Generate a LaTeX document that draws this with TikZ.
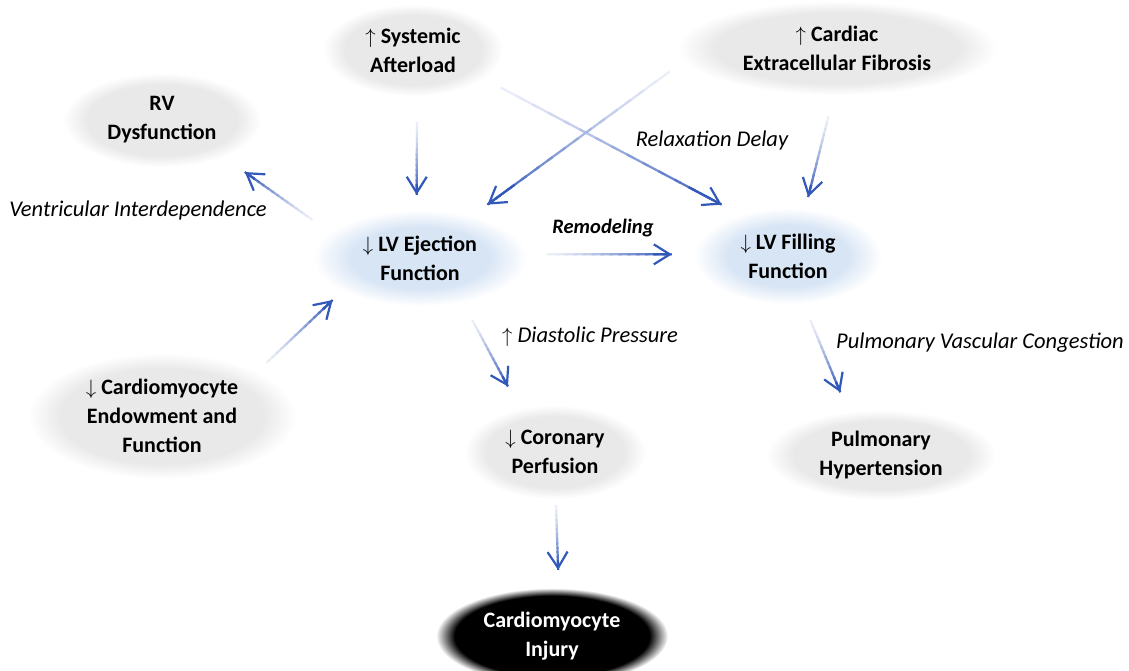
\documentclass[tikz,border=0pt]{standalone}
\usepackage{fontspec}
\setmainfont{Carlito}
\usetikzlibrary{shapes.geometric, arrows.meta, calc}
\definecolor{ngray}{RGB}{233,233,233}
\definecolor{nblue}{RGB}{216,229,245}
\definecolor{arrowblue}{RGB}{50,88,185}
\pgfdeclareradialshading{softgray}{\pgfpoint{0bp}{0bp}}{color(0bp)=(ngray); color(19bp)=(ngray); color(25bp)=(white); color(50bp)=(white)}
\pgfdeclareradialshading{softblue}{\pgfpoint{0bp}{0bp}}{color(0bp)=(nblue); color(16bp)=(nblue); color(25bp)=(white); color(50bp)=(white)}
\pgfdeclareradialshading{softblack}{\pgfpoint{0bp}{0bp}}{color(0bp)=(black); color(21bp)=(black); color(25bp)=(white); color(50bp)=(white)}
\newcommand\nodefont{\fontsize{22}{29}\selectfont\bfseries}
\newcommand\lblfont{\fontsize{22.5}{26}\selectfont\itshape}
\newcommand\remfont{\fontsize{20.5}{26}\selectfont\itshape\bfseries}
\tikzset{
  bub/.style={ellipse, shade, shading=softgray, inner sep=0pt, align=center, font=\nodefont},
  bubblue/.style={bub, shading=softblue},
  bubblack/.style={bub, shading=softblack, text=white},
  lbl/.style={inner sep=0pt, font=\lblfont},
  arrowline/.style={line width=2.2pt, line cap=butt},
  headtip/.style={-{Straight Barb[length=16pt, width=20pt, line join=miter]}}
}
% gradient connector: #1 from, #2 to, #3 gap at start, #4 gap at end
\newcommand\garrow[4]{%
  \coordinate (gA) at ($(#1)!#3!(#2)$);
  \coordinate (gB) at ($(#2)!#4!(#1)$);
  \foreach \k in {0,...,13}{%
    \pgfmathsetmacro\ta{\k/14}%
    \pgfmathsetmacro\tb{min(1,(\k+1.4)/14)}%
    \pgfmathsetmacro\cc{10+90*(\k/13)^1.3}%
    \draw[arrowline, draw=arrowblue!\cc!white] ($(gA)!\ta!(gB)$) -- ($(gA)!\tb!(gB)$);
  }%
  \draw[arrowline, arrowblue, headtip] ($(gA)!0.85!(gB)$) -- (gB);
}
\begin{document}
\begin{tikzpicture}[x=1pt, y=-1pt]
\useasboundingbox (0,0) rectangle (1129,670);
\fill[white] (0,0) rectangle (1129,670);

% nodes
\node[bub, minimum width=180, minimum height=92] (sa) at (413,50) {$\uparrow$ Systemic\\Afterload};
\node[bub, minimum width=320, minimum height=94] (cef) at (837,48) {$\uparrow$ Cardiac\\Extracellular Fibrosis};
\node[bub, minimum width=198, minimum height=94] (rv) at (162,120) {RV\\Dysfunction};
\node[bubblue, minimum width=214, minimum height=96] (lve) at (420,258) {$\downarrow$ LV Ejection\\Function};
\node[bubblue, minimum width=188, minimum height=96] (lvf) at (788,256) {$\downarrow$ LV Filling\\Function};
\node[bub, minimum width=268, minimum height=126] (cm) at (162,416) {$\downarrow$ Cardiomyocyte\\Endowment and\\Function};
\node[bub, minimum width=182, minimum height=94] (cp) at (555,452) {$\downarrow$ Coronary\\Perfusion};
\node[bub, minimum width=230, minimum height=90] (ph) at (881,455) {Pulmonary\\Hypertension};
\node[bubblack, minimum width=232, minimum height=96] (ci) at (552,636) {Cardiomyocyte\\Injury};

% connectors
\garrow{sa.-85}{lve.94}{26pt}{15pt}
\garrow{sa.-22.5}{lvf.139}{19pt}{21pt}
\garrow{cef.185}{lve.39}{17pt}{19pt}
\garrow{cef.-94}{lvf.70}{22pt}{12pt}
\garrow{lve.164}{rv.-31}{21pt}{26pt}
\garrow{cm.25}{lve.203}{13pt}{13pt}
\garrow{lve.2}{lvf.179}{20pt}{22pt}
\garrow{lve.-46}{cp.129}{20pt}{25pt}
\garrow{lvf.-72}{ph.127}{18pt}{21pt}
\garrow{cp.-89}{ci.82}{6pt}{18pt}

% labels
\node[lbl] (l1) at (712,140) {Relaxation Delay};
\node[lbl] (l2) at (138,210) {Ventricular Interdependence};
\node[lbl, font=\remfont] (l3) at (603,228) {Remodeling};
\node[lbl] (l4) at (590,337) {\upshape$\uparrow$\itshape\ Diastolic Pressure};
\node[lbl] (l5) at (980,343) {Pulmonary Vascular Congestion};
\end{tikzpicture}
\end{document}
